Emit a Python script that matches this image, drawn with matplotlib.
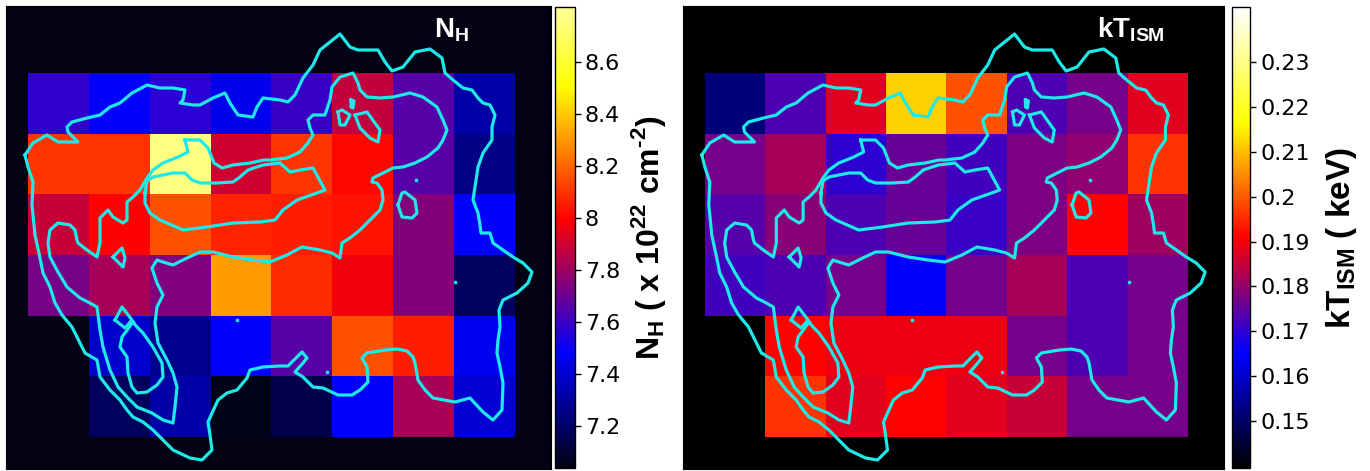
import numpy as np
import matplotlib.pyplot as plt
from matplotlib.colors import LinearSegmentedColormap
from matplotlib.ticker import FormatStrFormatter

plt.rcParams['mathtext.fontset'] = 'custom'
plt.rcParams['mathtext.rm'] = 'Liberation Sans'
plt.rcParams['mathtext.bf'] = 'Liberation Sans:bold'

nan = np.nan

# column density map, N_H in 1e22 cm^-2 (6 rows x 8 columns of spectral regions)
nh = np.array([
    [7.58, 7.48, 7.57, 7.45, 7.60, 7.87, 7.66, 7.32],
    [8.10, 8.10, 8.76, 7.90, 8.10, 8.01, 7.66, 7.26],
    [7.88, 8.00, 8.16, 8.07, 8.05, 8.03, 7.75, 7.48],
    [7.72, 7.82, 7.74, 8.31, 8.08, 7.97, 7.75, 7.18],
    [nan,  7.39, 7.27, 7.48, 7.66, 8.16, 8.05, 7.46],
    [nan,  7.18, 7.32, 7.05, 7.15, 7.48, 7.82, 7.40],
])

# ISM temperature map, kT in keV
kt = np.array([
    [0.152, 0.173, 0.188, 0.212, 0.199, 0.173, 0.177, 0.188],
    [0.177, 0.182, 0.170, 0.176, 0.172, 0.178, 0.180, 0.196],
    [0.174, 0.179, 0.173, 0.176, 0.171, 0.178, 0.191, 0.181],
    [0.172, 0.173, 0.177, 0.165, 0.177, 0.182, 0.173, 0.177],
    [nan,   0.191, 0.189, 0.189, 0.189, 0.177, 0.173, 0.177],
    [nan,   0.196, 0.188, 0.191, 0.188, 0.185, 0.177, 0.177],
])

nh_ticks = [7.2, 7.4, 7.6, 7.8, 8.0, 8.2, 8.4, 8.6]
kt_ticks = [0.15, 0.16, 0.17, 0.18, 0.19, 0.20, 0.21, 0.22, 0.23]

# X-ray surface brightness contours, image pixel coordinates
outer = [(25, 155), (33, 143), (47, 135), (58, 142), (78, 142), (68, 132), (67, 127), (72, 122),
         (87, 118), (100, 115), (110, 107), (120, 103), (132, 93), (147, 85), (160, 88), (173, 88),
         (185, 90), (183, 100), (180, 103), (193, 105), (200, 105), (213, 98), (225, 93), (230, 103),
         (238, 115), (253, 117), (257, 107), (263, 98), (280, 100), (288, 102), (295, 95), (303, 78),
         (313, 65), (320, 50), (330, 42), (340, 34), (350, 47), (358, 50), (378, 50), (385, 62),
         (392, 71), (403, 67), (415, 52), (430, 49), (442, 58), (445, 73), (453, 80), (463, 88),
         (472, 90), (478, 98), (483, 103), (490, 105), (495, 115), (492, 127), (492, 140), (483, 153),
         (478, 167), (475, 187), (473, 200), (478, 213), (480, 225), (481, 233), (490, 233), (493, 243),
         (503, 250), (513, 257), (523, 263), (532, 272), (528, 283), (517, 293), (503, 300), (499, 310),
         (500, 327), (498, 340), (497, 353), (500, 367), (503, 383), (502, 410), (493, 420), (483, 412),
         (470, 398), (455, 402), (433, 398), (425, 390), (418, 380), (415, 363), (413, 357), (407, 351),
         (397, 349), (385, 350), (367, 353), (362, 358), (367, 367), (368, 382), (360, 390), (352, 395),
         (338, 395), (323, 388), (313, 387), (303, 377), (295, 372), (303, 363), (307, 358), (302, 352),
         (297, 357), (288, 366), (280, 366), (263, 367), (250, 370), (247, 378), (237, 390), (227, 393),
         (218, 400), (208, 422), (210, 435), (212, 450), (202, 460), (190, 458), (173, 450), (163, 440),
         (153, 430), (143, 422), (133, 417), (127, 410), (120, 400), (110, 390), (100, 377), (97, 360),
         (85, 353), (80, 343), (72, 327), (62, 315), (55, 303), (50, 287), (43, 273), (40, 258),
         (35, 235), (32, 205), (33, 182), (28, 167), (25, 155)]

middle = [(185, 140), (200, 140), (208, 148), (214, 163), (222, 168), (233, 165), (250, 163), (264, 160),
          (270, 160), (287, 158), (300, 152), (308, 143), (313, 135), (310, 128), (308, 120), (313, 115),
          (325, 115), (330, 100), (332, 87), (340, 77), (353, 73), (358, 83), (360, 90), (367, 97),
          (380, 98), (393, 97), (410, 93), (423, 97), (437, 107), (443, 120), (447, 130), (443, 140),
          (438, 148), (427, 157), (415, 163), (403, 167), (393, 168), (383, 173), (373, 178), (372, 182),
          (377, 183), (382, 190), (383, 200), (380, 210), (370, 220), (360, 230), (350, 238), (342, 243),
          (340, 258), (332, 253), (320, 250), (302, 247), (287, 255), (270, 262), (253, 260), (233, 257),
          (213, 252), (200, 252), (187, 258), (173, 265), (163, 262), (157, 260), (152, 268), (157, 283),
          (163, 295), (157, 307), (155, 323), (158, 343), (167, 360), (173, 373), (177, 387), (175, 407),
          (173, 423), (163, 420), (152, 413), (137, 407), (127, 397), (118, 387), (110, 370), (103, 347),
          (100, 330), (97, 307), (88, 302), (80, 298), (67, 287), (58, 272), (50, 257), (48, 243),
          (50, 230), (58, 223), (70, 225), (75, 230), (77, 240), (78, 243), (87, 250), (97, 257),
          (100, 243), (100, 218), (108, 210), (113, 217), (123, 223), (127, 220), (127, 202), (133, 197),
          (140, 190), (147, 178), (153, 170), (163, 163), (178, 157), (188, 152), (185, 140)]

inner = [(145, 193), (147, 181), (153, 177), (163, 175), (173, 173), (185, 173), (192, 180), (200, 183),
         (217, 183), (233, 182), (240, 177), (248, 170), (263, 165), (280, 163), (290, 172), (300, 170),
         (313, 168), (325, 190), (317, 193), (297, 200), (283, 210), (275, 220), (260, 222), (233, 223),
         (207, 227), (183, 230), (160, 220), (150, 213), (145, 203), (145, 193)]

loop_a = [(338, 112), (342, 110), (350, 115), (345, 125), (340, 125), (338, 112)]
loop_b = [(355, 115), (367, 112), (380, 130), (378, 142), (370, 138), (360, 128), (355, 115)]
loop_c = [(398, 205), (402, 193), (405, 192), (415, 200), (417, 213), (412, 218), (402, 217), (398, 205)]
loop_d = [(113, 257), (122, 248), (125, 258), (123, 267), (113, 257)]
loop_e = [(115, 320), (122, 307), (132, 320), (125, 328), (115, 320)]
loop_f = [(133, 322), (122, 337), (120, 347), (127, 357), (128, 373), (132, 387), (137, 393), (147, 392),
          (157, 385), (163, 377), (162, 363), (153, 347), (143, 333), (137, 327), (133, 322)]
loop_g = [(351, 100), (354, 101), (353, 108), (351, 107), (351, 100)]
specks_x = [416, 455, 327, 237]
specks_y = [180, 282, 372, 320]

contours = [outer, middle, inner, loop_a, loop_b, loop_c, loop_d, loop_e, loop_f, loop_g]

# region grid: first cell corner and cell size in image pixels
x0, y0, dx, dy = 27.7, 73.3, 60.8, 60.55
extent = (x0, x0 + 8 * dx, y0 + 6 * dy, y0)

cmap_nh = LinearSegmentedColormap.from_list(
    'nh', [(0, '#020214'), (0.25, '#0000ff'), (0.54, '#ff0000'), (0.83, '#ffff00'), (1, '#ffff99')])
cmap_kt = LinearSegmentedColormap.from_list(
    'kt', [(0, '#000000'), (0.25, '#0000ff'), (0.5, '#ff0000'), (0.75, '#ffff00'), (1, '#ffffff')])

W, H = 1370, 471
fig = plt.figure(figsize=(W / 100, H / 100), dpi=100)

panels = [
    (nh, cmap_nh, 7.04, 8.81, '#020214', nh_ticks,
     r'$\mathbf{N_H}$', '$\\mathbf{N_H}$ ( x 10$^{\\mathbf{22}}$ cm$^{\\mathbf{\u20102}}$)',
     [6, 2, 545, 463], [555, 3, 19.5, 461], 0.785, 6, 23),
    (kt, cmap_kt, 0.1396, 0.2422, '#000000', kt_ticks,
     r'$\mathbf{kT_{ISM}}$', r'$\mathbf{kT_{ISM}}$ ( keV)',
     [683, 2, 541, 463], [1231.5, 3, 18.5, 461], 0.765, 10, 24),
]

for data, cmap, vmin, vmax, bg, ticks, title, clabel, box, cbox, tx, pad, lsize in panels:
    ax = fig.add_axes([box[0] / W, box[1] / H, box[2] / W, box[3] / H])
    ax.set_facecolor(bg)
    im = ax.imshow(data, cmap=cmap, vmin=vmin, vmax=vmax, extent=extent,
                   origin='upper', interpolation='nearest', aspect='auto')
    for c in contours:
        xs, ys = zip(*c)
        ax.plot(xs, ys, color='#1ee8e8', lw=2.3, solid_joinstyle='round')
    ax.plot(specks_x, specks_y, ls='none', marker='s', ms=1.5, color='#1ee8e8')
    ax.set_xlim(6, 551)
    ax.set_ylim(469, 6)
    ax.set_xticks([])
    ax.set_yticks([])
    ax.text(tx, 0.933, title, transform=ax.transAxes, color='white',
            fontsize=20, fontweight='bold', va='baseline', ha='left')

    cax = fig.add_axes([cbox[0] / W, cbox[1] / H, cbox[2] / W, cbox[3] / H])
    cb = fig.colorbar(im, cax=cax, ticks=ticks)
    cb.ax.yaxis.set_major_formatter(FormatStrFormatter('%g'))
    cb.ax.tick_params(labelsize=16, length=4, width=1)
    cb.outline.set_linewidth(1)
    cb.set_label(clabel, fontsize=lsize, fontweight='bold', family='Liberation Sans', labelpad=pad)

fig.savefig('out.png', dpi=100)
